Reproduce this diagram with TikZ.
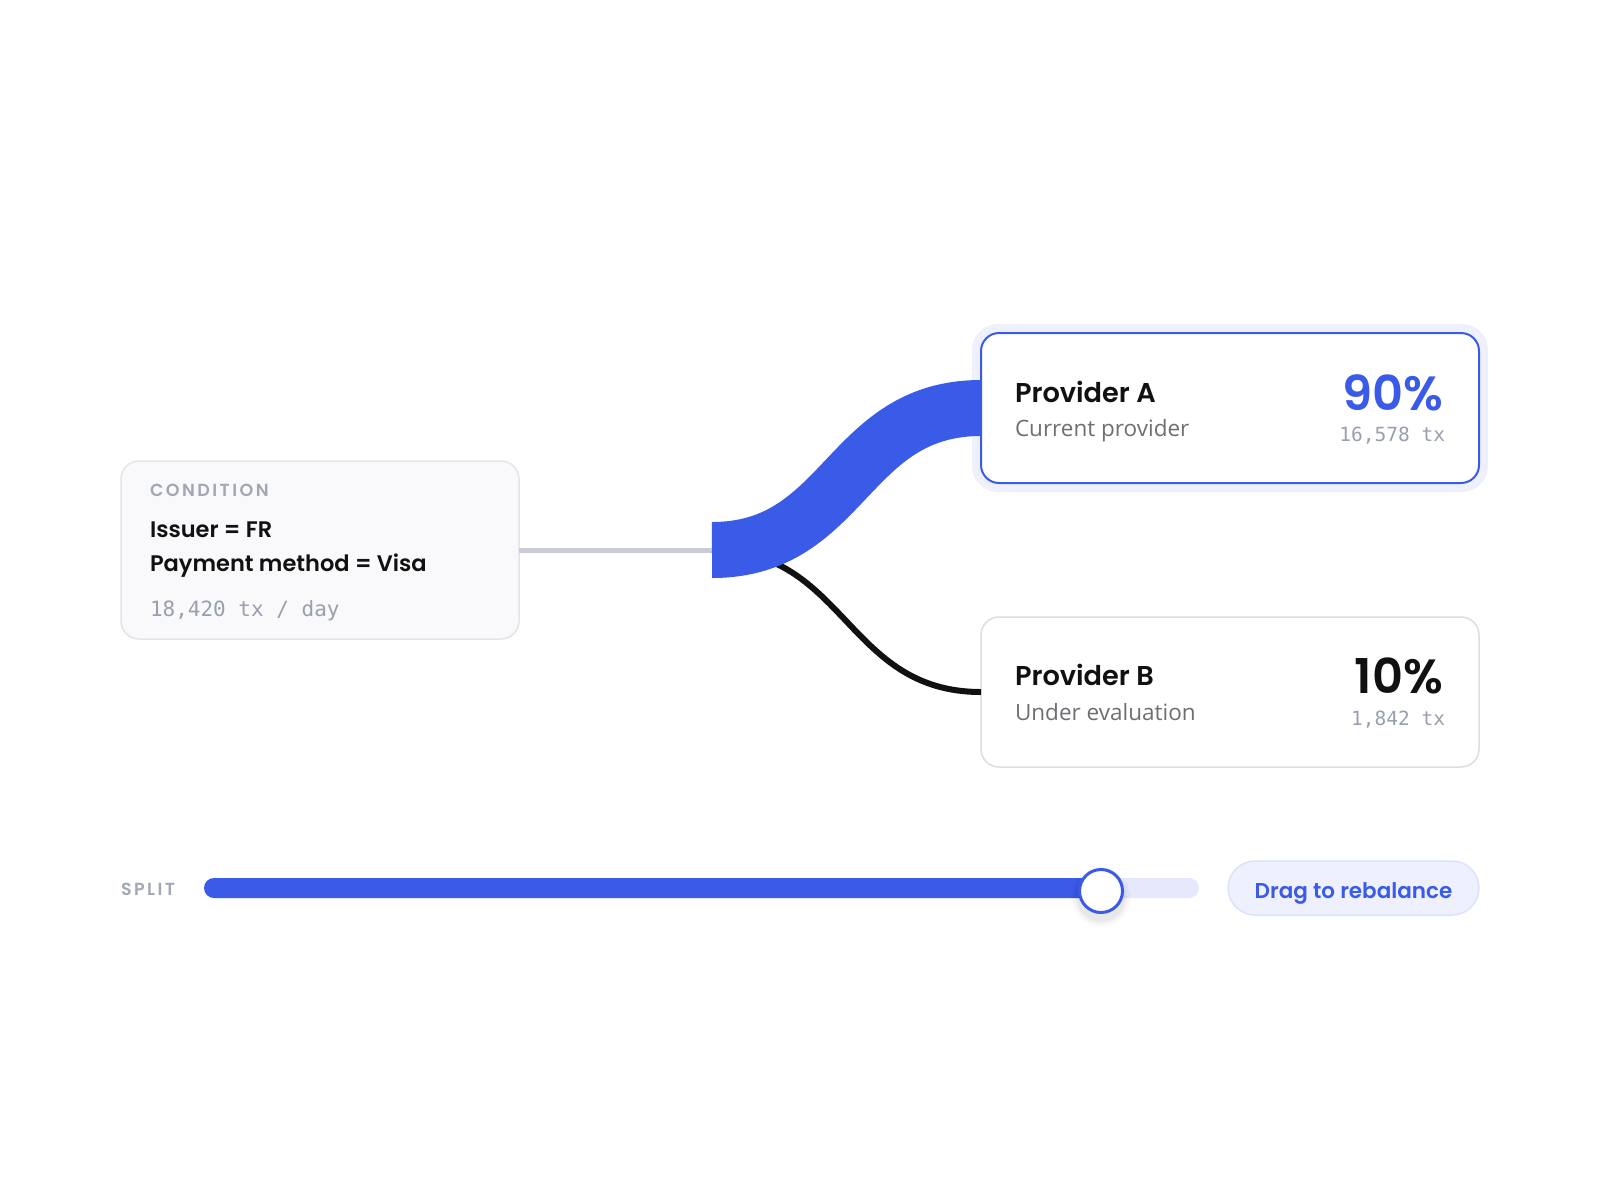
\documentclass[tikz,border=0pt]{standalone}
\usepackage{fontspec}
\setmainfont{Open Sans}
\newfontfamily\headfont{Poppins}[BoldFont={* SemiBold}]
\newfontfamily\capsfont{Poppins}[UprightFont={* SemiBold},LetterSpace=14]
\newfontfamily\codefont{DejaVu Sans Mono}
\definecolor{brandblue}{HTML}{3A5AE8}
\definecolor{inkblack}{HTML}{111111}
\definecolor{linkgray}{HTML}{C9CBD6}
\definecolor{capgray}{HTML}{A2A7B4}
\definecolor{subgray}{HTML}{6E6E73}
\definecolor{codegray}{HTML}{9A9FAD}
\definecolor{condfill}{HTML}{F9F9FB}
\definecolor{condline}{HTML}{E3E4EA}
\definecolor{cardline}{HTML}{DCDDE4}
\definecolor{halo}{HTML}{EEF1FD}
\definecolor{tracklight}{HTML}{E6E9FB}
\definecolor{pillfill}{HTML}{EEF1FD}
\definecolor{pillline}{HTML}{DCE2FA}
\tikzset{
  x=1pt, y=-1pt,
  txt/.style={inner sep=0pt, outer sep=0pt},
  caplabel/.style={txt, anchor=base west, text=capgray, font=\capsfont\fontsize{17.5}{19}\selectfont},
  condtitle/.style={txt, anchor=base west, text=inkblack, font=\headfont\bfseries\fontsize{22.5}{26}\selectfont},
  codetext/.style={txt, text=codegray, font=\codefont\fontsize{19.5}{22}\selectfont},
  provname/.style={txt, anchor=base west, text=inkblack, font=\headfont\bfseries\fontsize{27.2}{32}\selectfont},
  provsub/.style={txt, anchor=base west, text=subgray, font=\fontsize{22.5}{26}\selectfont},
  pct/.style={txt, anchor=base east, font=\headfont\bfseries\fontsize{48}{52}\selectfont},
  card/.style={rounded corners=18pt, line width=1.5pt},
}
\begin{document}
\begin{tikzpicture}
\useasboundingbox[fill=white] (0,0) rectangle (1600,1200);

% condition card
\draw[card, fill=condfill, draw=condline] (121,461) rectangle (519,639);
\node[txt, minimum width=398pt, minimum height=178pt] (cond) at (320,550) {};
\node[caplabel] (condcap) at (150,496) {CONDITION};
\node[condtitle] (condl1) at (150,537) {Issuer = FR};
\node[condtitle] (condl2) at (150,571) {Payment method = Visa};
\node[codetext, anchor=base west, font=\codefont\fontsize{21}{24}\selectfont] (condvol) at (150,616) {18,420 tx / day};

% provider A card
\fill[rounded corners=26pt, halo] (972,324) rectangle (1488,492);
\draw[rounded corners=18pt, fill=white, draw=brandblue, line width=2pt] (981,333) rectangle (1479,483);
\node[txt, minimum width=498pt, minimum height=150pt] (provA) at (1230,408) {};
\node[provname] (provAname) at (1015,402) {Provider A};
\node[provsub] (provAsub) at (1015,436) {Current provider};
\node[pct, text=brandblue] (provApct) at (1443,410) {90\%};
\node[codetext, anchor=base east] (provAtx) at (1445,441) {16,578 tx};

% provider B card
\draw[card, fill=white, draw=cardline] (981,617) rectangle (1479,767);
\node[txt, minimum width=498pt, minimum height=150pt] (provB) at (1230,692) {};
\node[provname] (provBname) at (1015,685) {Provider B};
\node[provsub] (provBsub) at (1015,720) {Under evaluation};
\node[pct, text=inkblack] (provBpct) at (1443,693) {10\%};
\node[codetext, anchor=base east] (provBtx) at (1445,725) {1,842 tx};

% connectors
\coordinate (split) at (712,550);
\draw[linkgray, line width=5pt] (cond.east) -- (split);
\draw[inkblack, line width=6pt] (split) .. controls (846,550) and (846,692) .. (provB.west);
\draw[brandblue, line width=56pt] (split) .. controls (846,550) and (846,408) .. (provA.west);

% slider
\node[caplabel] (splitlbl) at (121,895) {SPLIT};
\fill[tracklight, rounded corners=10pt] (204,878) rectangle (1199,898);
\fill[brandblue, rounded corners=10pt] (204,878) rectangle (1110,898);
\foreach \r/\o in {30/0.015,28/0.02,26/0.025,24.5/0.03}{
  \fill[black, opacity=\o] (1101,897) circle (\r);
}
\node[circle, fill=white, draw=brandblue, line width=3pt, minimum size=43pt, inner sep=0pt] (knob) at (1101,891) {};

% button
\node[rounded corners=27pt, fill=pillfill, draw=pillline, line width=1.5pt, minimum width=251pt, minimum height=54pt, inner sep=0pt] (pill) at (1353.5,888) {};
\node[txt, anchor=base, text=brandblue, font=\headfont\bfseries\fontsize{21.5}{24}\selectfont] (pilltext) at (1353.5,898) {Drag to rebalance};
\end{tikzpicture}
\end{document}
